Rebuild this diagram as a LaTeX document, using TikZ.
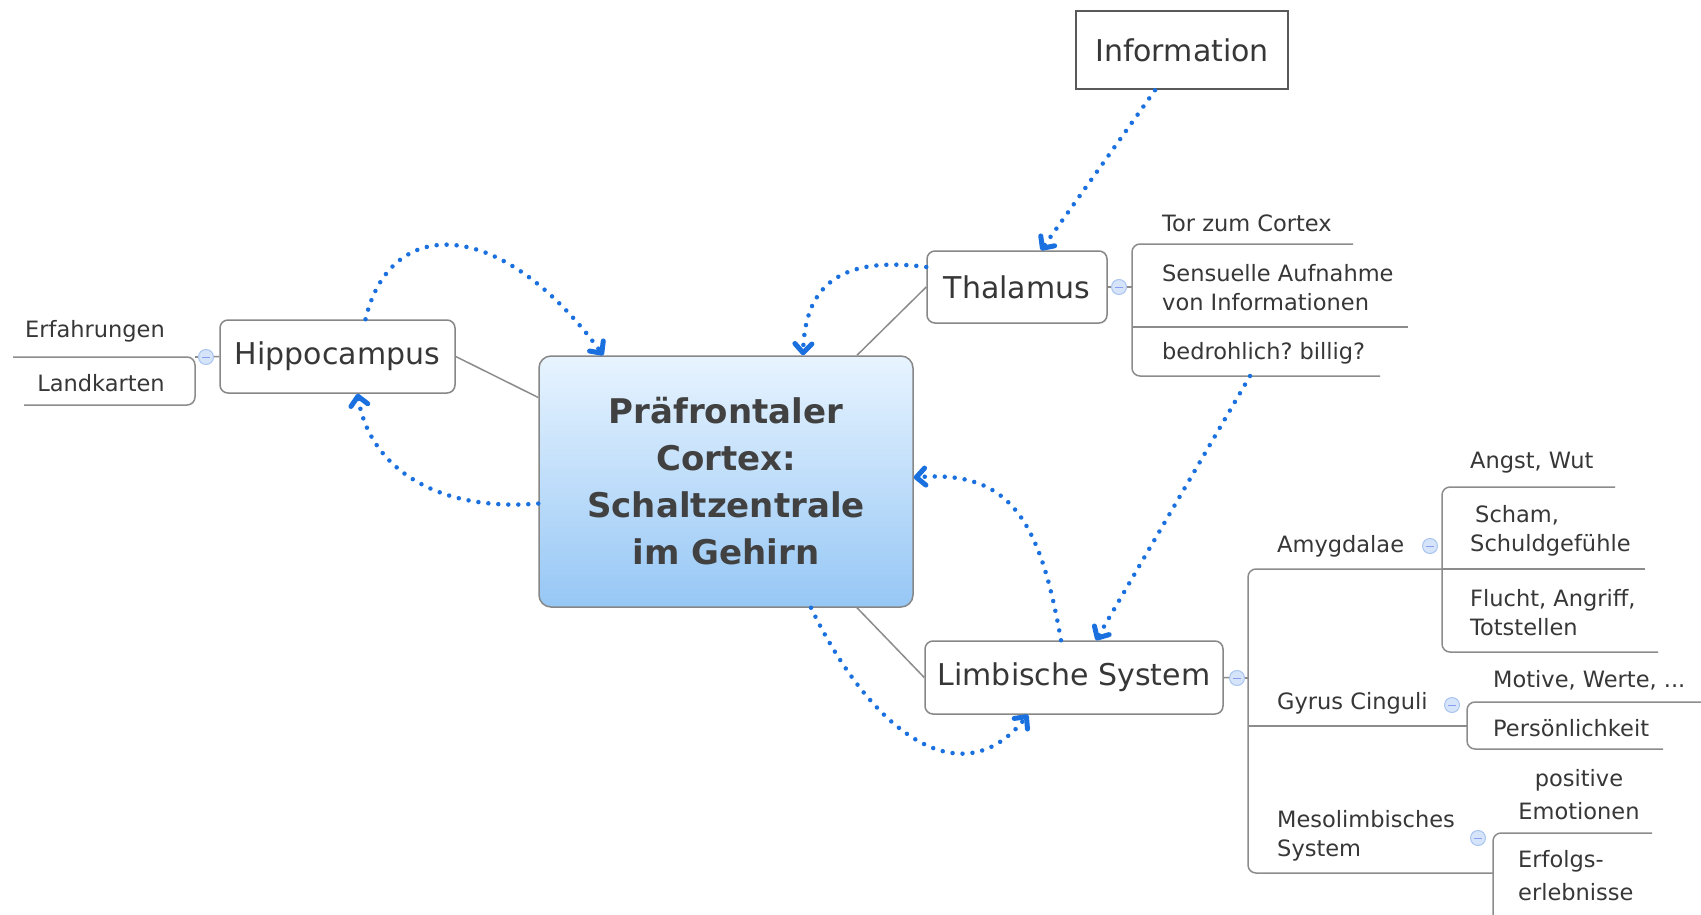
\documentclass[tikz,border=0pt]{standalone}
\usepackage{fontspec}
\setmainfont{DejaVu Sans}
\usetikzlibrary{arrows.meta,calc}
\frenchspacing
\definecolor{arrowblue}{RGB}{25,112,222}
\definecolor{linegray}{RGB}{140,140,140}
\definecolor{boxgray}{RGB}{135,135,135}
\definecolor{txt}{RGB}{55,55,55}
\definecolor{ctop}{RGB}{232,244,255}
\definecolor{cbot}{RGB}{150,199,245}
\definecolor{cfill}{RGB}{214,228,250}
\definecolor{cdraw}{RGB}{170,196,240}
\begin{document}
\begin{tikzpicture}[x=1pt,y=-1pt,
  topic/.style={draw=boxgray,line width=1.5pt,rounded corners=8pt,fill=white,text=txt,font=\fontsize{30}{36}\selectfont,inner sep=0pt},
  sub/.style={text=txt,font=\fontsize{22.5}{29}\selectfont,inner sep=0pt,align=left},
  branch/.style={draw=linegray,line width=1.5pt,rounded corners=8pt},
  link/.style={draw=arrowblue,line width=4.5pt,dash pattern=on 0pt off 10pt,line cap=round,-{Straight Barb[length=9pt,width=17pt,line width=5pt,round]}},
  collapse/.style={circle,draw=cdraw,fill=cfill,line width=1pt,minimum size=15pt,inner sep=0pt,
    path picture={\draw[cdraw!80!blue,line width=1pt] ([xshift=-4pt]path picture bounding box.center) -- ([xshift=4pt]path picture bounding box.center);}}
]
\useasboundingbox (0,0) rectangle (1701,915);
\fill[white] (0,0) rectangle (1701,915);

% main nodes
\node[topic,minimum width=212pt,minimum height=78pt,rounded corners=0pt,draw=black!65,line width=2.5pt] (info) at (1182,50) {Information};
\node[topic,minimum width=180pt,minimum height=72pt] (thal) at (1017,287) {Thalamus};
\node[topic,minimum width=235pt,minimum height=73pt] (hip) at (337.5,356.5) {Hippocampus};
\node[topic,minimum width=298pt,minimum height=73pt] (limb) at (1074,677.5) {Limbische System};
\node[draw=boxgray,line width=1.5pt,rounded corners=12pt,top color=ctop,bottom color=cbot,minimum width=374pt,minimum height=251pt,inner sep=0pt,text=txt!95,font=\bfseries\fontsize{34}{47}\selectfont,align=center] (cen) at (726,481.5) {Präfrontaler\\Cortex:\\Schaltzentrale\\im Gehirn};

% gray connectors
\draw[draw=linegray,line width=1.5pt] (hip.east) -- ([yshift=84pt]cen.west);
\draw[draw=linegray,line width=1.5pt] ([xshift=131pt]cen.north) -- (thal.west);
\draw[draw=linegray,line width=1.5pt] ([xshift=131pt]cen.south) -- (limb.west);

% Thalamus branch
\node[collapse] (tc) at (1119,287) {};
\coordinate (tv) at (1132,287);
\draw[branch] (thal.east) -- (tc);
\draw[branch] (tc) -- (tv);
\draw[branch] (1353,244) -- (1132,244) -- (1132,376) -- (1380,376);
\draw[branch] (1132,327) -- (1408,327);
\node[sub,anchor=west] (tor) at (1162,223) {Tor zum Cortex};
\node[sub,anchor=west] (sens) at (1162,288) {Sensuelle Aufnahme\\von Informationen};
\node[sub,anchor=west] (bed) at (1162,353) {bedrohlich? billig?};
\coordinate (bedpt) at (1250,376);

% Hippocampus branch
\node[collapse] (hc) at (206,357) {};
\coordinate (hv) at (195,357);
\draw[branch] (hc) -- (hip.west);
\draw[branch] (hv) -- (hc);
\draw[branch] (13,357) -- (195,357) -- (195,405) -- (24,405);
\node[sub] (erf) at (95,331) {Erfahrungen};
\node[sub] (land) at (101,383) {Landkarten};

% Limbic branch
\node[collapse] (lc) at (1237,678) {};
\coordinate (lv) at (1248,678);
\draw[branch] (limb.east) -- (lc);
\draw[branch] (lc) -- (lv);
\draw[branch] (1443,569) -- (1248,569) -- (1248,873) -- (1493,873);
\draw[branch] (1248,726) -- (1467,726);
% Amygdalae
\node[sub,anchor=west] (amy) at (1277,546) {Amygdalae};
\node[collapse] (ac) at (1430,546) {};
\draw[branch] (1615,487) -- (1442,487) -- (1442,652) -- (1658,652);
\draw[branch] (1442,569) -- (1645,569);
\node[sub,anchor=west] (angst) at (1470,463) {Angst, Wut};
\node[sub,anchor=west] (scham) at (1470,531) {\hspace{5pt}Scham,\\Schuldgefühle};
\node[sub,anchor=west] (flucht) at (1470,613) {Flucht, Angriff,\\Totstellen};
% Gyrus
\node[sub,anchor=west] (gyrus) at (1277,703) {Gyrus Cinguli};
\node[collapse] (gc) at (1452,705) {};
\draw[branch] (1705,702) -- (1467,702) -- (1467,749) -- (1663,749);
\node[sub,anchor=west] (motive) at (1493,680) {Motive, Werte, ...};
\node[sub,anchor=west] (pers) at (1493,728) {Persönlichkeit};
% Mesolimbisch
\node[sub,anchor=west] (meso) at (1277,836) {Mesolimbisches\\System};
\node[collapse] (mc) at (1478,838) {};
\draw[branch] (1652,833) -- (1493,833) -- (1493,916);
\node[sub,align=center,font=\fontsize{22.5}{33}\selectfont] (pos) at (1579,795) {positive\\Emotionen};
\node[sub,anchor=west,font=\fontsize{22.5}{33}\selectfont] (erfolg) at (1518,876) {Erfolgs-\\erlebnisse};

% blue dotted arrows
\draw[link] ([xshift=-27pt]info.south) -- ([xshift=24pt]thal.north);
\draw[link] ([yshift=20pt]thal.west) .. controls (835,255) and (805,290) .. ([xshift=77pt]cen.north);
\draw[link] ([xshift=28pt]hip.north) .. controls (390,215) and (500,215) .. ([xshift=65pt]cen.north west);
\draw[link] ([yshift=-22pt]cen.west) .. controls (440,512) and (370,470) .. ([xshift=20pt]hip.south);
\draw[link] ([xshift=-13pt]limb.north) .. controls (1040,520) and (1010,470) .. ([yshift=4pt]cen.east);
\draw[link] ([xshift=85pt]cen.south) .. controls (870,730) and (960,800) .. ([xshift=-46pt]limb.south);
\draw[link] (bedpt) -- ([xshift=22pt]limb.north);
\end{tikzpicture}
\end{document}
